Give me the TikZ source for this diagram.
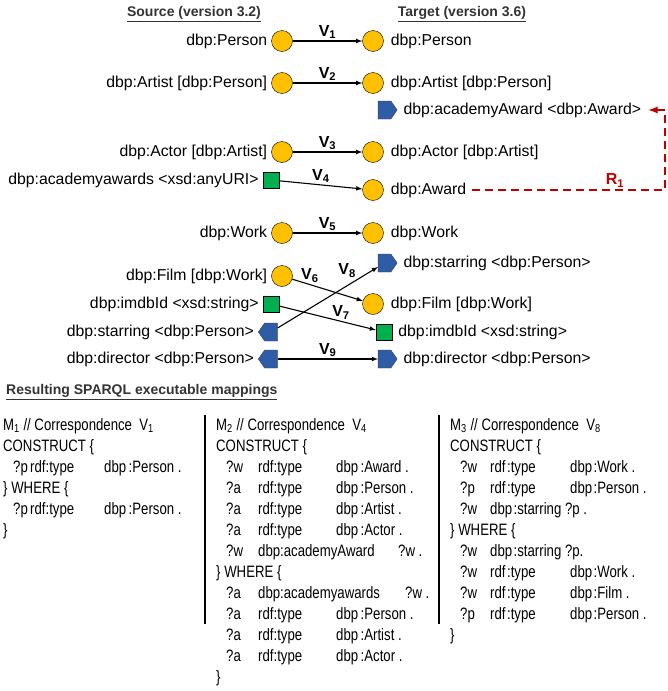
\documentclass[tikz,border=0pt]{standalone}
\usepackage{fontspec}
\setmainfont{Liberation Sans}
\newfontfamily\codefont[FakeStretch=0.8]{Liberation Sans}
\usepackage{tikz}
\usetikzlibrary{positioning}
\usetikzlibrary{arrows,shapes}
\usetikzlibrary{shapes.symbols}
\definecolor{classfill}{HTML}{FFC000}
\definecolor{attrfill}{HTML}{00B050}
\definecolor{relfill}{HTML}{2E5CA6}
\definecolor{rulered}{HTML}{C00000}
\definecolor{headgray}{HTML}{333333}
\tikzstyle{classnode}=[circle,fill=classfill,draw=black,minimum size=21pt,inner sep=0pt]
\tikzstyle{attrnode}=[rectangle,fill=attrfill,draw=black,minimum size=16pt,inner sep=0pt]
\tikzstyle{relnode}=[signal,fill=relfill,draw=black!75,minimum width=19pt,minimum height=18pt,inner sep=0pt,signal pointer angle=110]
\tikzstyle{lbl}=[inner sep=1pt,font=\fontsize{15.8}{18}\selectfont]
\tikzstyle{head}=[inner sep=1pt,text=headgray,font=\bfseries\fontsize{14}{16}\selectfont]
\tikzstyle{edge}=[draw,line width=1.1pt,->,>=latex]
\tikzstyle{weight}=[inner sep=1.5pt,font=\bfseries\fontsize{16}{18}\selectfont]
\tikzstyle{rulearrow}=[draw=rulered,line width=2.2pt,dash pattern=on 8pt off 5pt,->,>=latex]
\tikzstyle{codeblock}=[anchor=north west,align=left,inner sep=0pt,font=\codefont\fontsize{16.5}{21}\selectfont]
\newcommand{\spq}[5]{\makebox[#1][l]{\hspace*{10pt}#3}\makebox[#2][l]{#4}#5}

\begin{document}
\begin{tikzpicture}[x=1pt,y=-1pt]
    \useasboundingbox (0,0) rectangle (668,691);
    % Headers of both versions
    \node[head] (srchead) at (194,14) {\underline{Source (version 3.2)}};
    \node[head] (tgthead) at (462,14) {\underline{Target (version 3.6)}};

    % Source classes, attributes and relations
    \foreach \pos/\name/\label in {{(282,41)/sP/dbp:Person}, {(282,83)/sA/dbp:Artist [dbp:Person]}, {(282,152)/sAc/dbp:Actor [dbp:Artist]}, {(282,233)/sW/dbp:Work}, {(282,276)/sF/dbp:Film [dbp:Work]}}
        {\node[classnode] (\name) at \pos {};
         \node[lbl, left=3pt of \name] (\name-t) {\label};}
    \foreach \pos/\name/\label in {{(271,180)/sAw/dbp:academyawards <xsd:anyURI>}, {(271,304)/sI/dbp:imdbId <xsd:string>}}
        {\node[attrnode] (\name) at \pos {};
         \node[lbl, left=3pt of \name] (\name-t) {\label};}
    \foreach \pos/\name/\label in {{(271,332)/sS/dbp:starring <dbp:Person>}, {(271,359)/sD/dbp:director <dbp:Person>}}
        {\node[relnode, signal to=west] (\name) at \pos {};
         \node[lbl, left=3pt of \name] (\name-t) {\label};}

    % Target classes, attributes and relations
    \foreach \pos/\name/\label in {{(373,41)/tP/dbp:Person}, {(373,83)/tA/dbp:Artist [dbp:Person]}, {(373,152)/tAc/dbp:Actor [dbp:Artist]}, {(373,190)/tAw/dbp:Award}, {(373,233)/tW/dbp:Work}, {(373,304)/tF/dbp:Film [dbp:Work]}}
        {\node[classnode] (\name) at \pos {};
         \node[lbl, right=6pt of \name] (\name-t) {\label};}
    \foreach \pos/\name/\label in {{(384,332)/tI/dbp:imdbId <xsd:string>}}
        {\node[attrnode] (\name) at \pos {};
         \node[lbl, right=5pt of \name] (\name-t) {\label};}
    \foreach \pos/\name/\label in {{(384.5,110)/tAA/dbp:academyAward <dbp:Award>}, {(384.5,263)/tS/dbp:starring <dbp:Person>}, {(384.5,359)/tD/dbp:director <dbp:Person>}}
        {\node[relnode, signal to=east] (\name) at \pos {};
         \node[lbl, right=5pt of \name] (\name-t) {\label};}

    % Correspondences
    \foreach \source/\dest/\weight in {sP/tP/1, sA/tA/2, sAc/tAc/3, sAw/tAw/4, sW/tW/5, sD/tD/9}
        \draw[edge] (\source) -- node[weight,above] {V\textsubscript{\weight}} (\dest);
    \draw[edge] (sF) -- node[weight,above,pos=0.25] {V\textsubscript{6}} (tF);
    \draw[edge] (sI) -- node[weight,above,pos=0.64] {V\textsubscript{7}} (tI);
    \draw[edge] (sS) -- node[weight,above left,pos=0.8] {V\textsubscript{8}} (tS);

    % Rule R1
    \coordinate (rc) at (665,110);
    \draw[rulearrow] ([xshift=5pt]tAw-t.east) -| node[weight,text=rulered,above,pos=0.37] {R\textsubscript{1}} (rc) -- ([xshift=6pt]tAA-t.east);

    % Resulting mappings
    \node[head, anchor=west] (reshead) at (5,392) {\underline{Resulting SPARQL executable mappings}};
    \draw[line width=1.2pt] (205,415) -- (205,624);
    \draw[line width=1.2pt] (439,415) -- (439,624);

    \node[codeblock] (m1) at (3,418) {M\textsubscript{1} // Correspondence\ \ V\textsubscript{1}\\
        CONSTRUCT \{\\
        \spq{27pt}{74pt}{?p}{rdf:type}{dbp\kern2.5pt:Person .}\\
        \} WHERE \{\\
        \spq{27pt}{74pt}{?p}{rdf:type}{dbp\kern2.5pt:Person .}\\
        \}};
    \node[codeblock] (m2) at (216,418) {M\textsubscript{2} // Correspondence\ \ V\textsubscript{4}\\
        CONSTRUCT \{\\
        \spq{42pt}{78pt}{?w}{rdf:type}{dbp\kern2.5pt:Award .}\\
        \spq{42pt}{78pt}{?a}{rdf:type}{dbp\kern2.5pt:Person .}\\
        \spq{42pt}{78pt}{?a}{rdf:type}{dbp\kern2.5pt:Artist .}\\
        \spq{42pt}{78pt}{?a}{rdf:type}{dbp\kern2.5pt:Actor .}\\
        \spq{42pt}{140pt}{?w}{dbp:academyAward}{?w .}\\
        \} WHERE \{\\
        \spq{42pt}{147pt}{?a}{dbp:academyawards}{?w .}\\
        \spq{42pt}{78pt}{?a}{rdf:type}{dbp\kern2.5pt:Person .}\\
        \spq{42pt}{78pt}{?a}{rdf:type}{dbp\kern2.5pt:Artist .}\\
        \spq{42pt}{78pt}{?a}{rdf:type}{dbp\kern2.5pt:Actor .}\\
        \}};
    \node[codeblock] (m3) at (450,418) {M\textsubscript{3} // Correspondence\ \ V\textsubscript{8}\\
        CONSTRUCT \{\\
        \spq{40pt}{80pt}{?w}{rdf\kern1.5pt:type}{dbp\kern1.5pt:Work\ .}\\
        \spq{40pt}{80pt}{?p}{rdf\kern1.5pt:type}{dbp\kern1.5pt:Person .}\\
        \spq{40pt}{80pt}{?w}{dbp\kern1.5pt:starring ?p .}{}\\
        \} WHERE \{\\
        \spq{40pt}{80pt}{?w}{dbp\kern1.5pt:starring ?p.}{}\\
        \spq{40pt}{80pt}{?w}{rdf\kern1.5pt:type}{dbp\kern1.5pt:Work\ .}\\
        \spq{40pt}{80pt}{?w}{rdf\kern1.5pt:type}{dbp\kern1.5pt:Film\ .}\\
        \spq{40pt}{80pt}{?p}{rdf\kern1.5pt:type}{dbp\kern1.5pt:Person .}\\
        \}};
\end{tikzpicture}
\end{document}
